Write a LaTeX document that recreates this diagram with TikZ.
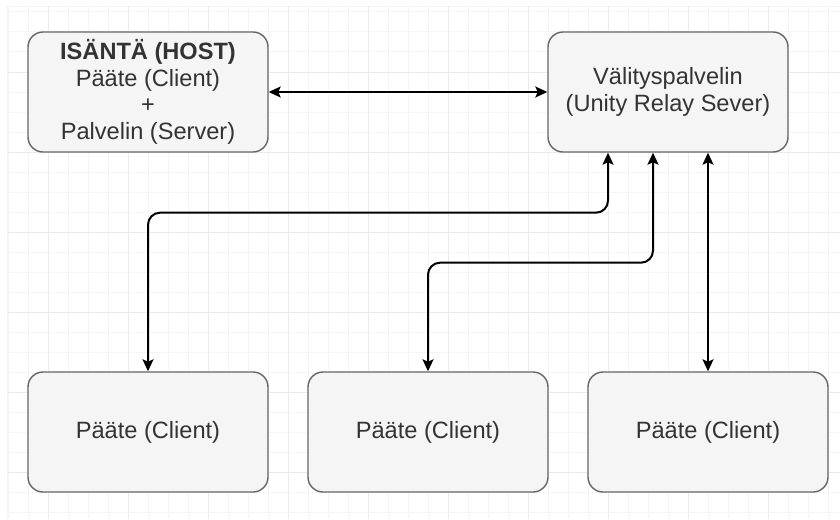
\documentclass[tikz,border=0pt]{standalone}
\usepackage{fontspec}
\setmainfont{Liberation Sans}
\usetikzlibrary{arrows.meta}

\begin{document}
\begin{tikzpicture}[x=1pt,y=-1pt,
	box/.style={draw=custcol_66_66_66, fill=custcol_f5_f5_f5, line width=1.4pt, rounded corners=15pt,
		minimum width=240pt, minimum height=120pt, inner sep=0pt, align=center,
		text=custcol_33_33_33, font=\fontsize{23.6pt}{26.6pt}\selectfont},
	link/.style={line width=2pt, custcol_0_0_0, rounded corners=12pt,
		{Stealth[length=12pt,width=11pt,inset=2.5pt]}-{Stealth[length=12pt,width=11pt,inset=2.5pt]}},
	minorgrid/.style={line width=1pt, custcol_f5_f5_f5},
	majorgrid/.style={line width=1pt, custcol_eb_eb_eb}]
					\definecolor{custcol_0_0_0}{RGB}{0, 0, 0}
					\definecolor{custcol_33_33_33}{RGB}{51, 51, 51}
					\definecolor{custcol_66_66_66}{RGB}{102, 102, 102}
					\definecolor{custcol_f5_f5_f5}{RGB}{245, 245, 245}
					\definecolor{custcol_eb_eb_eb}{RGB}{235, 235, 235}
					\useasboundingbox [fill=white] (0,0) rectangle (840,519);
					% background grid
					\foreach \x in {7,8,28,...,828} \draw [minorgrid] (\x,7) -- (\x,519);
					\foreach \y in {7,12,32,...,512} \draw [minorgrid] (7,\y) -- (840,\y);
					\foreach \x in {48,128,...,768} \draw [majorgrid] (\x,7) -- (\x,519);
					\foreach \y in {72,152,...,472} \draw [majorgrid] (7,\y) -- (840,\y);
					% top row
					\node [box] (host) at (148,92) {\textbf{ISÄNTÄ (HOST)}\\Pääte (Client)\\+\\Palvelin (Server)};
					\node [box] (relay) at (668,92) {Välityspalvelin\\(Unity Relay Sever)};
					% clients
					\node [box] (client1) at (148,432) {Pääte (Client)};
					\node [box] (client2) at (428,432) {Pääte (Client)};
					\node [box] (client3) at (708,432) {Pääte (Client)};
					\coordinate (relayin1) at ([xshift=-60pt]relay.south);
					\coordinate (relayin2) at ([xshift=-15pt]relay.south);
					\coordinate (relayin3) at ([xshift=40pt]relay.south);
					\draw [link] (host) -- (relay);
					\draw [link] (client1.north) |- ([yshift=-60pt]relayin1) -- (relayin1);
					\draw [link] (client2.north) |- ([yshift=-110pt]relayin2) -- (relayin2);
					\draw [link] (client3.north) -- (relayin3);
				\end{tikzpicture}
\end{document}
